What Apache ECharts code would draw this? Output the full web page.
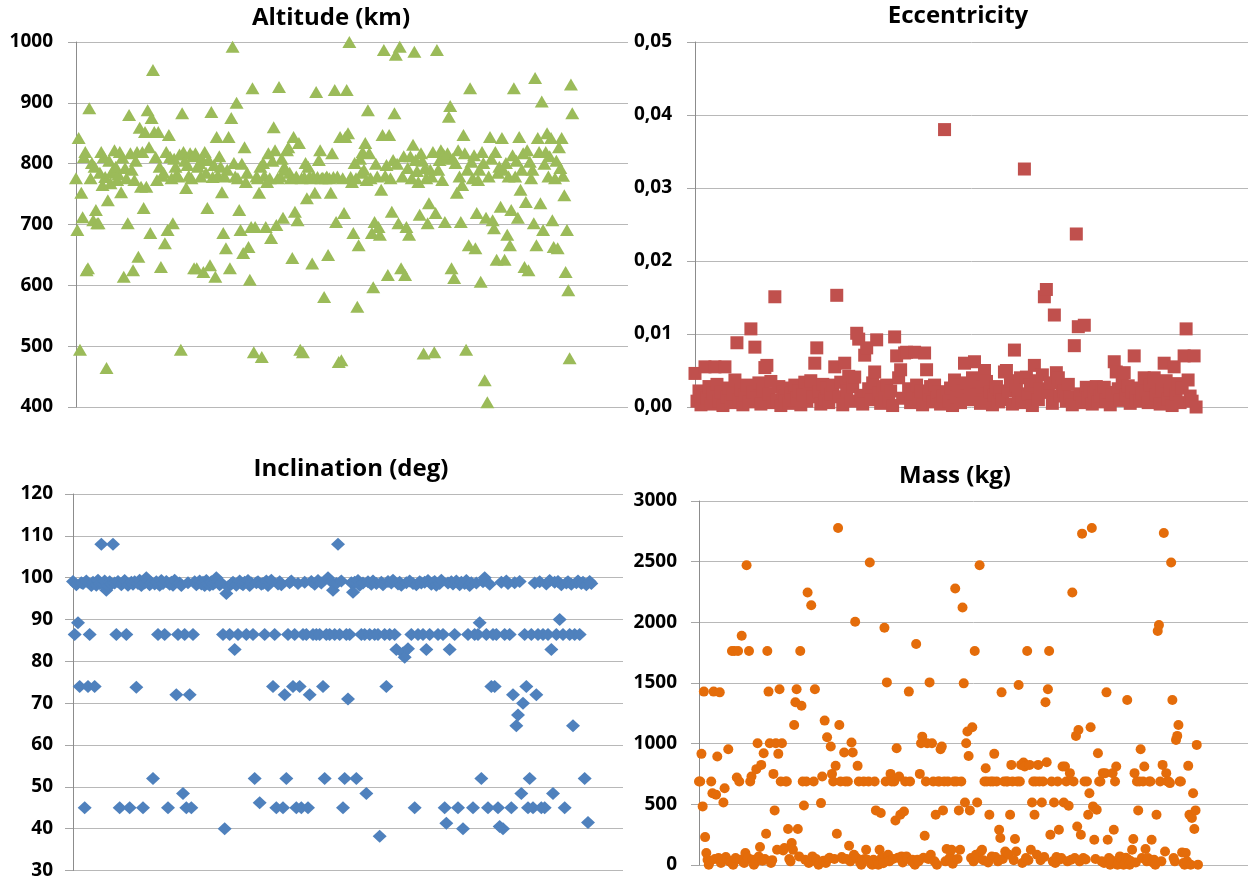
<!DOCTYPE html>
<html>
<head>
<meta charset="utf-8">
<script src="https://cdn.jsdelivr.net/npm/echarts@6/dist/echarts.min.js"></script>
<style>
html,body{margin:0;padding:0;background:#fff;}
#chart{width:1250px;height:880px;}
</style>
</head>
<body>
<div id="chart"></div>
<script>
// ---------- DATA ----------
const titles = ['Altitude (km)', 'Eccentricity', 'Inclination (deg)', 'Mass (kg)'];

// Altitude (km), in satellite order
const altitudeKm = [
776,691,842,494,752,712,811,819,625,628,
891,776,801,707,795,724,702,702,785,819,
765,811,778,464,740,805,768,785,790,822,
795,773,782,819,753,810,614,793,776,702,
880,817,790,625,773,805,819,647,859,762,
819,727,852,762,888,827,686,875,954,852,
811,773,852,795,630,780,785,669,819,691,
847,811,776,702,808,795,783,779,815,494,
883,819,805,760,798,780,817,776,812,628,
817,628,795,801,779,808,622,819,785,727,
806,633,885,778,798,614,844,781,812,795,
753,686,779,661,790,844,628,875,992,801,
779,900,776,724,691,800,653,827,770,785,
663,609,696,924,490,696,779,776,752,795,
482,801,780,696,770,817,776,678,805,860,
822,699,776,926,779,808,711,795,790,822,
827,785,776,645,844,721,779,707,834,494,
776,490,778,801,743,795,779,776,636,779,
752,918,778,806,822,776,777,581,776,779,
650,776,752,817,778,921,704,779,474,844,
477,776,719,844,921,850,1000,778,770,686,
801,776,565,666,808,785,819,790,834,773,
888,817,776,686,597,704,800,779,696,683,
757,847,987,780,798,617,847,776,721,806,
883,979,800,702,992,628,779,812,617,696,
793,683,812,776,831,984,806,788,770,716,
817,805,488,793,776,702,735,790,779,819,
490,719,987,790,806,822,773,815,704,809,
817,877,895,628,808,612,801,752,822,779,
704,765,847,817,494,790,666,924,803,776,
814,661,719,773,790,606,819,801,444,711,
408,779,844,808,707,694,819,642,785,795,
729,842,790,642,801,683,779,666,724,814,
924,779,805,711,844,757,790,817,630,737,
822,625,803,776,790,702,941,666,842,819,
735,902,691,800,819,850,779,812,842,707,
663,776,805,661,827,793,842,780,748,622,691,592,480,930,883
];

// Eccentricity, in satellite order
const eccentricity = [
0.0046,0.0008,0.0022,0.0003,0.0015, 0.0055,0.0012,0.0028,0.0004,0.0019,
0.0055,0.0031,0.0008,0.0021,0.0002, 0.0055,0.0014,0.0026,0.0006,0.0018,
0.0037,0.0088,0.0010,0.0023,0.0003, 0.0016,0.0030,0.0007,0.0107,0.0020,
0.0082,0.0012,0.0033,0.0004,0.0024, 0.0054,0.0057,0.0018,0.0035,0.0006,
0.0151,0.0010,0.0028,0.0002,0.0021, 0.0015,0.0026,0.0005,0.0019,0.0009,
0.0030,0.0012,0.0022,0.0003,0.0017, 0.0034,0.0008,0.0025,0.0036,0.0014,
0.0060,0.0081,0.0020,0.0004,0.0031, 0.0011,0.0026,0.0006,0.0018,0.0030,
0.0055,0.0153,0.0014,0.0034,0.0003, 0.0060,0.0022,0.0042,0.0008,0.0028,
0.0041,0.0101,0.0093,0.0016,0.0004, 0.0071,0.0081,0.0025,0.0010,0.0033,
0.0048,0.0092,0.0019,0.0005,0.0028, 0.0013,0.0030,0.0008,0.0022,0.0002,
0.0096,0.0070,0.0040,0.0051,0.0012, 0.0074,0.0075,0.0025,0.0006,0.0018,
0.0075,0.0030,0.0011,0.0022,0.0003, 0.0074,0.0051,0.0016,0.0028,0.0007,
0.0030,0.0012,0.0021,0.0004,0.0015, 0.0380,0.0019,0.0008,0.0026,0.0002,
0.0037,0.0014,0.0030,0.0006,0.0022, 0.0060,0.0033,0.0010,0.0024,0.0040,
0.0062,0.0017,0.0035,0.0005,0.0027, 0.0050,0.0035,0.0012,0.0021,0.0003,
0.0016,0.0028,0.0007,0.0020,0.0010, 0.0048,0.0050,0.0022,0.0036,0.0004,
0.0078,0.0029,0.0013,0.0040,0.0006, 0.0326,0.0041,0.0018,0.0030,0.0002,
0.0057,0.0036,0.0010,0.0025,0.0044, 0.0151,0.0161,0.0020,0.0033,0.0005,
0.0126,0.0047,0.0040,0.0015,0.0028, 0.0022,0.0008,0.0031,0.0014,0.0003,
0.0084,0.0237,0.0110,0.0018,0.0006, 0.0112,0.0027,0.0012,0.0021,0.0004,
0.0019,0.0028,0.0007,0.0015,0.0024, 0.0027,0.0010,0.0020,0.0003,0.0017,
0.0062,0.0048,0.0025,0.0009,0.0033, 0.0047,0.0016,0.0029,0.0005,0.0021,
0.0070,0.0013,0.0026,0.0008,0.0019, 0.0040,0.0022,0.0006,0.0030,0.0012,
0.0040,0.0017,0.0028,0.0004,0.0024, 0.0060,0.0036,0.0011,0.0023,0.0002,
0.0055,0.0018,0.0032,0.0006,0.0026, 0.0070,0.0107,0.0037,0.0015,0.0008,
0.0070,0.0000
];

// Inclination (deg), in satellite order
const inclinationDeg = [
99.1,86.4,98.3,89.2,74,98.8, 98.6,45,99.2,74,86.4,98.1, 98.9,74,98.2,99.4,98.6,108,
98.5,99.2,97,98.0,99.0,98.4, 108,98.7,86.4,99.1,45,98.3, 98.8,99.3,86.4,98.2,45,98.9,
98.4,99.0,73.8,98.6,99.4,98.1, 45,98.7,100,99.2,98.3,98.8, 52,98.5,99.0,86.4,98.2,99.3,
98.6,86.4,99.1,45,98.4,98.9, 98.2,99.4,72,86.4,98.7,98.1, 48.4,86.4,45,98.8,72,45,
86.4,99.0,98.3,98.7,99.2,98.5, 98.9,98.1,99.3,98.6,98.2,99.0, 98.4,98.8,100,99.1,98.3,98.7,
86.4,40,96.2,97.8,86.4,98.5, 98.9,82.8,98.2,86.4,99.2,98.6, 98.3,98.9,86.4,99.3,98.1,98.7,
86.4,52,98.8,99.0,46.2,98.4, 98.6,86.4,99.2,98.1,98.9,99.4, 74,86.4,45,98.5,99.0,98.3,
45,72,52,86.4,98.8,99.2, 74,86.4,45,98.6,74,45, 86.4,98.9,86.4,45,72,99.1,
86.4,98.4,86.4,99.3,86.4,98.7, 74,52,86.4,100,86.4,99.0, 97,86.4,98.6,108,86.4,99.2,
45,52,86.4,71,86.4,98.8, 96.5,98.9,52,99.3,98.2,86.4, 98.7,86.4,48.4,99.0,86.4,98.4,
99.2,86.4,98.6,86.4,38.2,98.9, 98.3,86.4,74,99.1,86.4,98.7, 99.4,86.4,82.8,98.5,98.9,98.2,
82,81,98.8,83,99.2,86.4, 98.6,45,98.3,86.4,99.0,98.7, 86.4,98.9,82.8,99.3,86.4,98.4,
98.8,99.1,98.2,86.4,98.6,99.4, 86.4,45,41.3,98.7,82.8,99.0, 98.5,86.4,99.2,45,98.3,98.9,
40,98.6,99.3,86.4,98.1,98.8, 45,86.4,98.7,86.4,89.2,52, 99.0,100,86.4,45,98.4,74,
86.4,74,86.4,45,40.5,98.9, 40,86.4,99.2,98.6,86.4,45, 72,98.8,64.6,67.2,99.1,48.4,
70,86.4,74,45,52,86.4, 45,98.7,72,86.4,99.0,45, 86.4,45,98.5,86.4,99.3,82.8,
48.4,98.9,86.4,99.1,90,98.3, 86.4,45,98.7,99.0,86.4,98.4, 64.6,86.4,98.8,99.2,86.4,98.6,
98.9,52,98.3,41.5,99.1,98.6
];

// Mass (kg), in satellite order
const massKg = [
688,688,916,483,1429,230,99,44,3,30,688,
592,1429,49,579,894,58,1423,16,49,515,633,
66,44,954,30,22,1763,3,1763,58,721,1763,
688,44,1889,30,16,99,2471,60,1763,688,729,
44,3,20,790,1004,70,148,825,35,921,49,
258,1763,1429,1004,16,40,751,450,1004,126,916,
1448,688,1004,120,140,688,688,296,49,30,181,
126,1154,1341,1448,296,71,1763,1313,688,491,44,
688,2246,16,40,2141,71,688,1448,49,20,3,
16,510,729,35,1190,16,1053,49,60,976,751,
688,49,817,258,2778,1154,688,66,50,927,688,
49,688,159,30,1009,927,85,2005,60,817,688,
20,3,44,688,50,126,44,688,2493,10,3,
44,688,450,30,3,126,428,66,15,1955,688,
1505,85,30,751,688,49,688,367,962,60,729,
414,71,20,441,688,71,55,1429,688,35,44,
16,3,1821,44,30,751,1004,1058,60,241,688,
1004,49,1505,85,1004,688,30,414,3,688,688,954,
976,450,688,30,132,688,50,66,126,10,688,
2279,688,49,450,126,688,2122,1497,515,1004,1100,
899,450,58,1135,30,1763,85,515,60,2471,112,
126,40,688,798,688,20,414,688,70,688,916,
66,688,30,291,222,1423,50,688,112,688,688,
85,414,825,688,40,214,112,688,1483,688,825,
16,845,812,58,1763,40,825,126,515,688,414,
688,85,825,688,40,515,688,66,1341,847,1448,
1763,250,688,30,515,16,66,688,291,45,58,
812,515,812,688,30,488,757,44,2246,688,58,
1064,318,1113,30,250,2731,58,688,45,688,414,
592,1135,2778,483,208,50,455,921,688,688,30,
757,16,757,1423,208,58,3,40,757,291,688,
812,3,20,71,30,50,3,10,60,1360,44,
3,30,126,214,757,20,688,450,688,954,58,
688,812,132,30,58,688,688,208,20,44,3,
414,1928,1977,688,30,825,2737,112,757,688,688,
675,2493,1360,58,30,1031,1064,1154,688,688,104,
16,3,99,30,817,414,3,387,592,296,450,990,3
];

// Y axis scales
const altAxis = {min: 400, max: 1000, interval: 100};
const eccAxis = {min: 0, max: 0.05, interval: 0.01};
const incAxis = {min: 30, max: 120, interval: 10};
const massAxis = {min: 0, max: 3000, interval: 500};

// ---------- CHART ----------
const FONT = '"Open Sans", "Noto Sans", sans-serif';
const toPts = arr => arr.map((v, i) => [i, v]);

function yAx(gi, sc, margin, fmt) {
  return {
    type: 'value', gridIndex: gi, min: sc.min, max: sc.max, interval: sc.interval,
    axisLine: {show: true, lineStyle: {color: '#8c8c8c', width: 1}},
    axisTick: {show: true, length: 8, lineStyle: {color: '#a6a6a6'}},
    axisLabel: {margin: margin, color: '#000', fontSize: 19, fontWeight: 'bold', fontFamily: FONT,
      formatter: fmt || (v => String(v))},
    splitLine: {show: true, lineStyle: {color: '#b8b8b8', width: 1}}
  };
}
function xAx(gi, max) {
  return {type: 'value', gridIndex: gi, min: 0, max: max, show: false};
}
function ttl(text, x, y) {
  return {text: text, left: x, top: y, textAlign: 'center', padding: 0,
    textStyle: {fontSize: 24, fontWeight: 'bold', color: '#000', fontFamily: FONT}};
}

const chart = echarts.init(document.getElementById('chart'), null, {renderer: 'canvas'});
chart.setOption({
  animation: false,
  backgroundColor: '#fff',
  title: [ttl(titles[0], 331, 6), ttl(titles[1], 958, 4), ttl(titles[2], 351, 457), ttl(titles[3], 955, 464)],
  grid: [
    {left: 76, top: 42, width: 552, height: 365},
    {left: 695, top: 42, width: 553, height: 365},
    {left: 73, top: 494, width: 550, height: 378},
    {left: 699, top: 501, width: 549, height: 364}
  ],
  xAxis: [xAx(0, 416), xAx(1, 277), xAx(2, 330), xAx(3, 450)],
  yAxis: [
    yAx(0, altAxis, 23),
    yAx(1, eccAxis, 23, v => v.toFixed(2).replace('.', ',')),
    yAx(2, incAxis, 20),
    yAx(3, massAxis, 22)
  ],
  series: [
    {type: 'scatter', xAxisIndex: 0, yAxisIndex: 0, data: toPts(altitudeKm), symbol: 'triangle', symbolSize: [14, 12],
      itemStyle: {color: '#9BBB59', opacity: 1}},
    {type: 'scatter', xAxisIndex: 1, yAxisIndex: 1, data: toPts(eccentricity), symbol: 'rect', symbolSize: [13, 13],
      itemStyle: {color: '#C0504D', opacity: 1}},
    {type: 'scatter', xAxisIndex: 2, yAxisIndex: 2, data: toPts(inclinationDeg), symbol: 'diamond', symbolSize: [14, 13],
      itemStyle: {color: '#4F81BD', opacity: 1}},
    {type: 'scatter', xAxisIndex: 3, yAxisIndex: 3, data: toPts(massKg), symbol: 'circle', symbolSize: 10,
      itemStyle: {color: '#E46C0A', opacity: 1}}
  ]
});
</script>
</body>
</html>
